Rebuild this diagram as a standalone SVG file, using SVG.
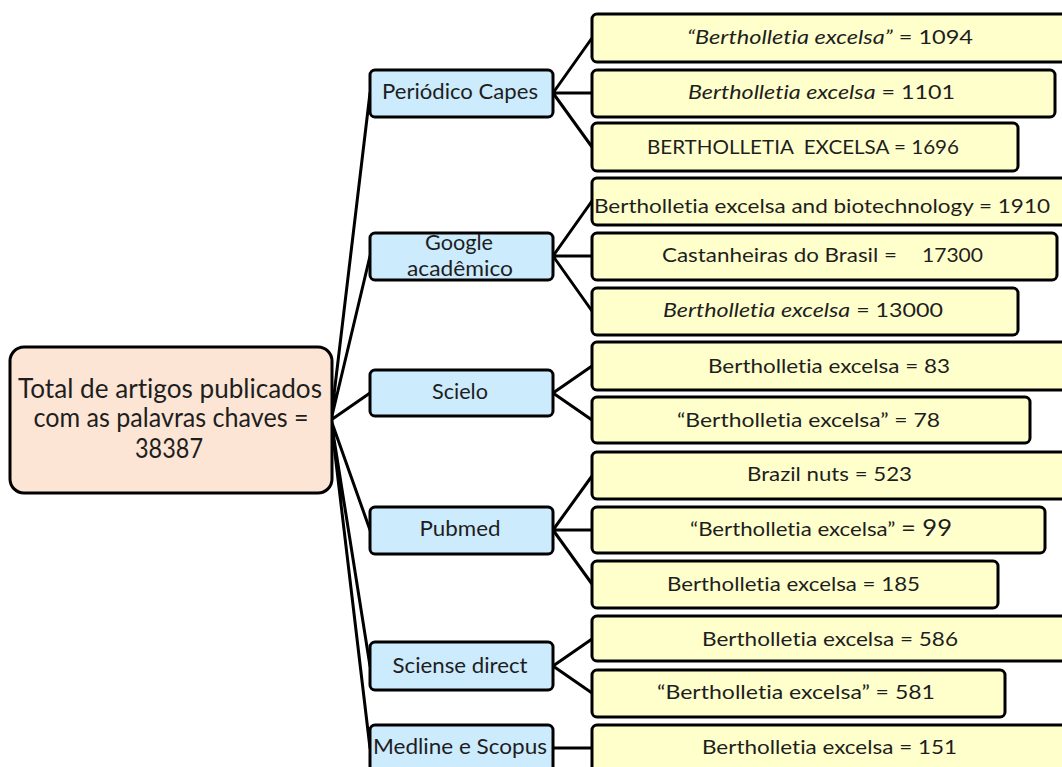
<svg xmlns="http://www.w3.org/2000/svg" width="1062" height="767" viewBox="0 0 1062 767">
<style>
.root{fill:#fce5d5;stroke:#000;stroke-width:3}
.src{fill:#ccebfd;stroke:#000;stroke-width:3}
.leaf{fill:#ffffcc;stroke:#000;stroke-width:3}
.ln{stroke:#000;stroke-width:3;fill:none;stroke-linecap:round}
text{font-family:"Lato","Liberation Sans",sans-serif;fill:#1e1e1e;font-variant-ligatures:none}
.rt{font-size:26px;text-anchor:middle}
.st{font-size:21px;text-anchor:middle}
.lt{font-size:20px}
.i{font-style:italic}
.pre{white-space:pre}
</style>
<rect width="1062" height="767" fill="#fff"/>
<g id="connectors">
<path class="ln" d="M331,420 L370,93 M331,420 L370,256 M331,420 L370,393 M331,420 L370,530 M331,420 L370,666 M331,420 L370,748"/>
<path class="ln" d="M553,93 L592,38 M553,93 L592,93 M553,93 L592,147"/>
<path class="ln" d="M553,256 L592,201 M553,256 L592,256 M553,256 L592,311"/>
<path class="ln" d="M553,393 L592,366 M553,393 L592,420"/>
<path class="ln" d="M553,530 L592,476 M553,530 L592,530 M553,530 L592,584"/>
<path class="ln" d="M553,666 L592,639 M553,666 L592,693"/>
<path class="ln" d="M553,748 L592,748"/>
</g>
<g id="root">
<rect class="root" x="10" y="347" width="322" height="146" rx="14"/>
<text class="rt" x="170" y="398" textLength="304" lengthAdjust="spacingAndGlyphs">Total de artigos publicados</text>
<text class="rt" x="171" y="427" textLength="275" lengthAdjust="spacingAndGlyphs">com as palavras chaves =</text>
<text class="rt" x="169" y="458" textLength="68" lengthAdjust="spacingAndGlyphs">38387</text>
</g>
<g id="capes">
<rect class="src" x="370" y="70" width="183" height="47" rx="5"/>
<text class="st" x="460" y="99" textLength="156" lengthAdjust="spacingAndGlyphs">Periódico Capes</text>
</g>
<g id="google">
<rect class="src" x="370" y="233" width="183" height="47" rx="5"/>
<text class="st" x="459" y="250" textLength="68" lengthAdjust="spacingAndGlyphs">Google</text>
<text class="st" x="460" y="276" textLength="106" lengthAdjust="spacingAndGlyphs">acadêmico</text>
</g>
<g id="scielo">
<rect class="src" x="370" y="370" width="183" height="46" rx="5"/>
<text class="st" x="460" y="399" textLength="56" lengthAdjust="spacingAndGlyphs">Scielo</text>
</g>
<g id="pubmed">
<rect class="src" x="370" y="507" width="183" height="47" rx="5"/>
<text class="st" x="460" y="536" textLength="81" lengthAdjust="spacingAndGlyphs">Pubmed</text>
</g>
<g id="sciense">
<rect class="src" x="370" y="642" width="183" height="48" rx="5"/>
<text class="st" x="460" y="673" textLength="135" lengthAdjust="spacingAndGlyphs">Sciense direct</text>
</g>
<g id="medline">
<rect class="src" x="370" y="725" width="183" height="60" rx="5"/>
<text class="st" x="460" y="754" textLength="174" lengthAdjust="spacingAndGlyphs">Medline e Scopus</text>
</g>
<g id="leaf1">
<rect class="leaf" x="592" y="14" width="474" height="48" rx="5"/>
<text class="lt" x="687" y="44" textLength="286" lengthAdjust="spacingAndGlyphs"><tspan class="i">“Bertholletia excelsa”</tspan> = 1094</text>
</g>
<g id="leaf2">
<rect class="leaf" x="592" y="70" width="463" height="47" rx="5"/>
<text class="lt" x="688" y="99" textLength="267" lengthAdjust="spacingAndGlyphs"><tspan class="i">Bertholletia excelsa</tspan> = 1101</text>
</g>
<g id="leaf3">
<rect class="leaf" x="592" y="123" width="426" height="48" rx="5"/>
<text class="lt pre" x="647" y="154" textLength="312" lengthAdjust="spacingAndGlyphs">BERTHOLLETIA  EXCELSA = 1696</text>
</g>
<g id="leaf4">
<rect class="leaf" x="592" y="178" width="474" height="47" rx="5"/>
<text class="lt" x="594" y="213" textLength="456" lengthAdjust="spacingAndGlyphs">Bertholletia excelsa and biotechnology = 1910</text>
</g>
<g id="leaf5">
<rect class="leaf" x="592" y="233" width="465" height="47" rx="5"/>
<text class="lt" x="662" y="262" textLength="235" lengthAdjust="spacingAndGlyphs">Castanheiras do Brasil =</text>
<text class="lt" x="922" y="262" textLength="61" lengthAdjust="spacingAndGlyphs">17300</text>
</g>
<g id="leaf6">
<rect class="leaf" x="592" y="288" width="426" height="47" rx="5"/>
<text class="lt" x="663" y="317" textLength="280" lengthAdjust="spacingAndGlyphs"><tspan class="i">Bertholletia excelsa</tspan> = 13000</text>
</g>
<g id="leaf7">
<rect class="leaf" x="592" y="342" width="474" height="48" rx="5"/>
<text class="lt" x="708" y="373" textLength="242" lengthAdjust="spacingAndGlyphs">Bertholletia excelsa = 83</text>
</g>
<g id="leaf8">
<rect class="leaf" x="592" y="397" width="438" height="46" rx="5"/>
<text class="lt" x="677" y="427" textLength="263" lengthAdjust="spacingAndGlyphs">“Bertholletia excelsa” = 78</text>
</g>
<g id="leaf9">
<rect class="leaf" x="592" y="452" width="474" height="47" rx="5"/>
<text class="lt" x="747" y="481" textLength="165" lengthAdjust="spacingAndGlyphs">Brazil nuts = 523</text>
</g>
<g id="leaf10">
<rect class="leaf" x="592" y="507" width="453" height="46" rx="5"/>
<text class="lt" x="690" y="536" textLength="262" lengthAdjust="spacingAndGlyphs">“Bertholletia excelsa” <tspan font-size="23">= 99</tspan></text>
</g>
<g id="leaf11">
<rect class="leaf" x="592" y="561" width="406" height="47" rx="5"/>
<text class="lt" x="667" y="591" textLength="253" lengthAdjust="spacingAndGlyphs">Bertholletia excelsa = 185</text>
</g>
<g id="leaf12">
<rect class="leaf" x="592" y="616" width="474" height="45" rx="5"/>
<text class="lt" x="702" y="646" textLength="256" lengthAdjust="spacingAndGlyphs">Bertholletia excelsa = 586</text>
</g>
<g id="leaf13">
<rect class="leaf" x="592" y="670" width="413" height="47" rx="5"/>
<text class="lt" x="657" y="699" textLength="278" lengthAdjust="spacingAndGlyphs">“Bertholletia excelsa” = 581</text>
</g>
<g id="leaf14">
<rect class="leaf" x="592" y="725" width="474" height="60" rx="5"/>
<text class="lt" x="702" y="754" textLength="255" lengthAdjust="spacingAndGlyphs">Bertholletia excelsa = 151</text>
</g>
</svg>
